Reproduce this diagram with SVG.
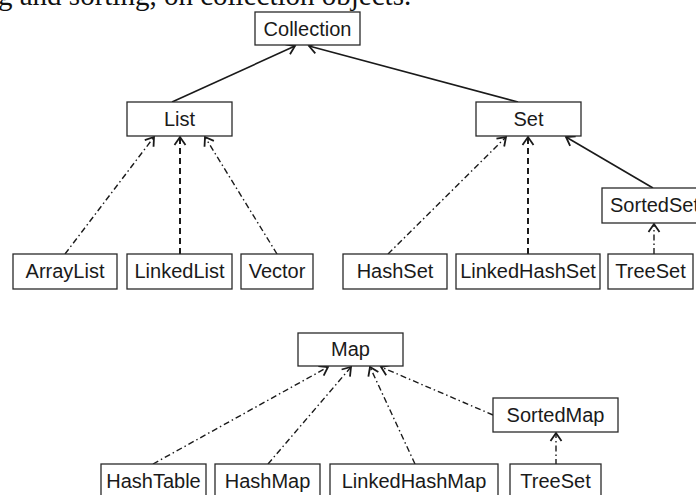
<svg xmlns="http://www.w3.org/2000/svg" width="696" height="495" viewBox="0 0 696 495">
<style>
.box rect{fill:#fff;stroke:#2a2a2a;stroke-width:1.3}
.box text{font-family:"Liberation Sans",Arial,sans-serif;font-size:20px;fill:#1a1a1a;text-anchor:middle}
.c line{stroke:#1a1a1a;fill:none}
.solid{stroke-width:1.6}
.dash{stroke-width:2;stroke-dasharray:6 4}
.dd{stroke-width:1.4;stroke-dasharray:6 3 1.5 3}
.hdr{font-family:"Liberation Serif","Times New Roman",serif;font-size:29px;fill:#111}
</style>
<defs>
<marker id="ah" markerUnits="userSpaceOnUse" markerWidth="14" markerHeight="14" viewBox="-10 -7 12 14" refX="0" refY="0" orient="auto">
<path d="M-8,-5.5 L0,0 L-8,5.5" fill="none" stroke="#1a1a1a" stroke-width="1.8"/>
</marker>
</defs>
<text class="hdr" x="-2" y="5">g and sorting, on collection objects.</text>
<g class="c" id="connectors">
<line class="solid" x1="172" y1="102" x2="295" y2="46" marker-end="url(#ah)"/>
<line class="solid" x1="518" y1="102" x2="309" y2="46" marker-end="url(#ah)"/>
<line class="dd" x1="65" y1="254" x2="154" y2="137" marker-end="url(#ah)"/>
<line class="dash" x1="180" y1="254" x2="180" y2="137" marker-end="url(#ah)"/>
<line class="dd" x1="277" y1="254" x2="205" y2="137" marker-end="url(#ah)"/>
<line class="dd" x1="388" y1="254" x2="506" y2="137" marker-end="url(#ah)"/>
<line class="dash" x1="528" y1="254" x2="528" y2="137" marker-end="url(#ah)"/>
<line class="solid" x1="653" y1="188" x2="566" y2="137" marker-end="url(#ah)"/>
<line class="dd" x1="654" y1="254" x2="654" y2="224" marker-end="url(#ah)"/>
<line class="dd" x1="153" y1="464" x2="328" y2="367" marker-end="url(#ah)"/>
<line class="dd" x1="268" y1="464" x2="351" y2="367" marker-end="url(#ah)"/>
<line class="dd" x1="415" y1="464" x2="370" y2="367" marker-end="url(#ah)"/>
<line class="dd" x1="493" y1="415" x2="381" y2="367" marker-end="url(#ah)"/>
<line class="dd" x1="556" y1="465" x2="556" y2="433" marker-end="url(#ah)"/>
</g>
<g class="box" id="Collection"><rect x="255" y="12" width="105" height="33"/><text x="307.5" y="36">Collection</text></g>
<g class="box" id="List"><rect x="127" y="102" width="105" height="34"/><text x="179.5" y="126">List</text></g>
<g class="box" id="Set"><rect x="476" y="102" width="105" height="34"/><text x="528.5" y="126">Set</text></g>
<g class="box" id="SortedSet"><rect x="602" y="188" width="105" height="35"/><text x="654.5" y="212">SortedSet</text></g>
<g class="box" id="ArrayList"><rect x="13" y="254" width="104" height="35"/><text x="65" y="278">ArrayList</text></g>
<g class="box" id="LinkedList"><rect x="127" y="254" width="105" height="35"/><text x="179.5" y="278">LinkedList</text></g>
<g class="box" id="Vector"><rect x="241" y="254" width="72" height="35"/><text x="277" y="278">Vector</text></g>
<g class="box" id="HashSet"><rect x="343" y="254" width="104" height="35"/><text x="395" y="278">HashSet</text></g>
<g class="box" id="LinkedHashSet"><rect x="456" y="254" width="144" height="35"/><text x="528" y="278">LinkedHashSet</text></g>
<g class="box" id="TreeSet1"><rect x="608" y="254" width="85" height="35"/><text x="650.5" y="278">TreeSet</text></g>
<g class="box" id="Map"><rect x="298" y="333" width="105" height="33"/><text x="350.5" y="356">Map</text></g>
<g class="box" id="SortedMap"><rect x="493" y="398" width="125" height="34"/><text x="555.5" y="422">SortedMap</text></g>
<g class="box" id="HashTable"><rect x="101" y="464" width="105" height="36"/><text x="153.5" y="488">HashTable</text></g>
<g class="box" id="HashMap"><rect x="215" y="464" width="105" height="36"/><text x="267.5" y="488">HashMap</text></g>
<g class="box" id="LinkedHashMap"><rect x="330" y="464" width="168" height="36"/><text x="414" y="488">LinkedHashMap</text></g>
<g class="box" id="TreeSet2"><rect x="510" y="464" width="91" height="36"/><text x="555.5" y="488">TreeSet</text></g>
</svg>
